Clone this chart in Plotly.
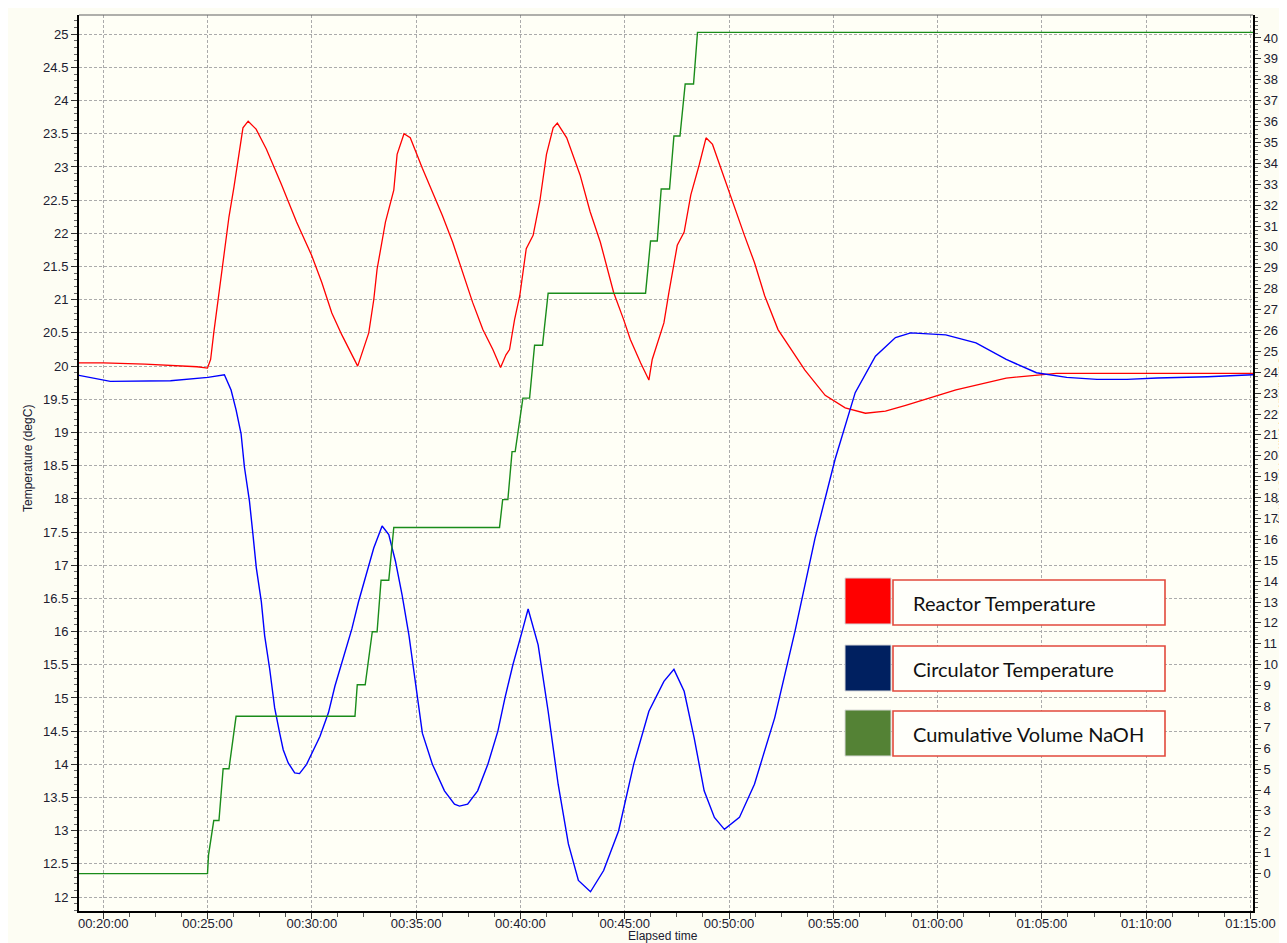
import plotly.graph_objects as go
import pandas as pd

# ---------------- data (time in minutes of elapsed time) ----------------
reactor_t = [18.84, 20.0, 22.0, 23.5, 24.5, 25.0, 25.15, 25.3, 25.55, 25.74, 26.03, 26.27, 26.51, 26.7,
             26.95, 27.33, 27.82, 28.54, 29.27, 29.99, 30.48, 30.96, 31.44, 31.93, 32.2, 32.73, 32.97,
             33.13, 33.53, 33.93, 34.09, 34.42, 34.72, 35.30, 35.78, 36.26, 36.75, 37.23, 37.71, 38.20,
             38.68, 39.05, 39.31, 39.48, 39.72, 39.97, 40.28, 40.61, 40.93, 41.25, 41.57, 41.77, 42.22,
             42.86, 43.34, 43.83, 44.47, 44.95, 45.27, 45.76, 46.16, 46.32, 46.56, 46.88, 47.12, 47.52,
             47.85, 48.17, 48.57, 48.90, 49.21, 49.78, 50.26, 50.74, 51.22, 51.71, 52.35, 53.0, 53.64,
             54.61, 55.57, 56.54, 57.5, 58.47, 60.88, 63.29, 65.70, 75.12]
reactor_temp = [20.05, 20.05, 20.03, 20.01, 19.99, 19.97, 20.1, 20.5, 21.1, 21.5, 22.25, 22.7, 23.24, 23.59,
                23.69, 23.57, 23.27, 22.74, 22.17, 21.67, 21.26, 20.8, 20.47, 20.17, 20.0, 20.5, 21.0,
                21.46, 22.17, 22.65, 23.19, 23.5, 23.44, 22.98, 22.63, 22.27, 21.87, 21.41, 20.96, 20.55,
                20.25, 19.98, 20.17, 20.25, 20.7, 21.06, 21.77, 21.97, 22.48, 23.19, 23.59, 23.66, 23.44,
                22.88, 22.33, 21.87, 21.11, 20.70, 20.40, 20.05, 19.79, 20.1, 20.35, 20.65, 21.11, 21.82,
                22.02, 22.58, 23.03, 23.44, 23.34, 22.83, 22.37, 21.97, 21.56, 21.06, 20.55, 20.25, 19.94,
                19.56, 19.37, 19.29, 19.32, 19.41, 19.64, 19.82, 19.89, 19.89]

circ_t = [18.84, 20.34, 23.23, 25.02, 25.81, 26.13, 26.37, 26.61, 26.77, 27.01, 27.18, 27.34, 27.58,
          27.74, 27.98, 28.22, 28.46, 28.63, 28.87, 29.18, 29.41, 29.75, 30.39, 30.80, 31.11, 31.60,
          31.92, 32.24, 32.56, 32.97, 33.37, 33.69, 34.01, 34.33, 34.66, 34.98, 35.30, 35.78, 36.36,
          36.84, 37.08, 37.47, 37.95, 38.44, 38.92, 39.26, 39.64, 40.08, 40.37, 40.85, 41.33, 41.81,
          42.30, 42.78, 43.36, 43.99, 44.71, 45.43, 46.16, 46.88, 47.36, 47.85, 48.33, 48.81, 49.30,
          49.78, 50.50, 51.22, 52.19, 53.16, 54.12, 55.09, 56.05, 57.02, 57.98, 58.71, 60.39, 61.84,
          63.29, 64.74, 66.19, 67.64, 69.08, 70.53, 72.94, 75.12]
circ_temp = [19.86, 19.77, 19.78, 19.83, 19.87, 19.64, 19.34, 18.98, 18.48, 17.97, 17.46, 16.96, 16.45,
             15.94, 15.44, 14.85, 14.47, 14.22, 14.02, 13.87, 13.86, 14.0, 14.42, 14.78, 15.18, 15.69,
             16.04, 16.45, 16.80, 17.26, 17.59, 17.46, 17.06, 16.55, 15.94, 15.23, 14.47, 14.0, 13.6,
             13.4, 13.37, 13.4, 13.6, 14.0, 14.5, 15.0, 15.5, 16.0, 16.34, 15.8, 14.8, 13.7,
             12.8, 12.25, 12.08, 12.4, 13.0, 14.0, 14.8, 15.25, 15.43, 15.1, 14.4, 13.6, 13.2,
             13.02, 13.2, 13.7, 14.7, 16.0, 17.4, 18.6, 19.6, 20.15, 20.43, 20.5, 20.47, 20.35,
             20.1, 19.9, 19.83, 19.8, 19.8, 19.82, 19.84, 19.87]

naoh_t = [18.84, 25.0, 25.05, 25.3, 25.55, 25.75, 26.03, 26.37, 32.07, 32.18, 32.56, 32.9, 33.13, 33.32,
          33.69, 33.93, 39.0, 39.15, 39.4, 39.6, 39.75, 40.12, 40.44, 40.68, 41.06, 41.33, 46.0, 46.24,
          46.56, 46.75, 47.15, 47.36, 47.65, 47.9, 48.3, 48.49, 75.12]
naoh_ml = [0, 0, 0.9, 2.54, 2.54, 5.02, 5.02, 7.53, 7.53, 9.04, 9.04, 11.58, 11.58, 14.04,
           14.04, 16.57, 16.57, 17.9, 17.9, 20.2, 20.2, 22.76, 22.76, 25.29, 25.29, 27.78, 27.78, 30.28,
           30.28, 32.77, 32.77, 35.31, 35.31, 37.8, 37.8, 40.27, 40.27]

series_names = ["Reactor Temperature", "Circulator Temperature", "Cumulative Volume NaOH"]
x_range_min = [18.84, 75.12]
y_left_range = [11.79, 25.29]
y_right_range = [-1.79, 41.1]


def to_time(mins):
    return pd.to_datetime(pd.Series(mins, dtype=float), unit="m")


fig = go.Figure()
fig.add_trace(go.Scatter(x=to_time(reactor_t), y=reactor_temp, mode="lines", name=series_names[0],
                         line=dict(color="#FF0000", width=1.3), yaxis="y"))
fig.add_trace(go.Scatter(x=to_time(circ_t), y=circ_temp, mode="lines", name=series_names[1],
                         line=dict(color="#0000FF", width=1.4), yaxis="y"))
fig.add_trace(go.Scatter(x=to_time(naoh_t), y=naoh_ml, mode="lines", name=series_names[2],
                         line=dict(color="#1A8C1A", width=1.4), yaxis="y2"))

OFF = 8  # page body margin
W, H = 1279, 935
L, R, T, B = 71, 34, 7, 32
PW, PH = W - L - R, H - T - B


def px(x):
    return (x - OFF - L) / PW


def py(y):
    return (OFF + H - B - y) / PH


tickfont = dict(family="Liberation Sans, Arial, sans-serif", size=13, color="#202030")
gridc = "#ABABAB"

fig.update_layout(
    width=W, height=H, margin=dict(l=L, r=R, t=T, b=B),
    paper_bgcolor="#FDFDF3", plot_bgcolor="#FFFFF6",
    showlegend=False,
    xaxis=dict(
        type="date", range=list(to_time(x_range_min)),
        tick0=to_time([20])[0], dtick=300000, tickformat="%H:%M:%S",
        ticks="outside", ticklen=6, tickcolor="#333333", tickfont=tickfont,
        ticklabelstandoff=-7,
        showline=True, linewidth=2, linecolor="black",
        showgrid=True, gridcolor=gridc, griddash="3px,2px", gridwidth=1,
        zeroline=False,
        minor=dict(ticks="outside", ticklen=4, dtick=75000, tick0=to_time([20])[0],
                   tickcolor="#555555", showgrid=False),
    ),
    yaxis=dict(
        range=y_left_range, tick0=0, dtick=0.5,
        ticks="outside", ticklen=6, tickcolor="#333333", tickfont=tickfont,
        showline=True, linewidth=2, linecolor="black",
        showgrid=True, gridcolor=gridc, griddash="3px,2px", gridwidth=1,
        zeroline=False,
        minor=dict(ticks="outside", ticklen=3, dtick=0.1, tick0=0, tickcolor="#666666", showgrid=False),
    ),
    yaxis2=dict(
        overlaying="y", side="right", range=y_right_range,
        tickmode="array", tickvals=list(range(0, 41)),
        ticks="outside", ticklen=6, tickcolor="#333333", tickfont=tickfont,
        showline=True, linewidth=2, linecolor="black",
        showgrid=False, zeroline=False,
        minor=dict(tickmode="linear", ticks="outside", ticklen=3, dtick=0.2, tick0=0,
                   tickcolor="#666666", showgrid=False),
    ),
)

# top border of the plot frame
fig.add_shape(type="line", xref="paper", yref="paper", x0=0, x1=1, y0=1, y1=1,
              line=dict(color="#606060", width=1))

# axis titles
title_font = dict(family="Liberation Sans, Arial, sans-serif", size=12, color="#202030")
fig.add_annotation(text="Temperature (degC)", xref="paper", yref="paper", x=px(28), y=py(459),
                   textangle=-90, showarrow=False, font=title_font, xanchor="center", yanchor="middle")
fig.add_annotation(text="Elapsed time", xref="paper", yref="paper", x=px(663), y=py(936),
                   showarrow=False, font=title_font, xanchor="center", yanchor="middle")
fig.add_annotation(text="Cumulative Volume NaOH (mL)", xref="paper", yref="paper", x=px(1283), y=py(440),
                   textangle=90, showarrow=False, font=title_font, xanchor="center", yanchor="middle")

# custom legend
legend_colors = ["#FF0000", "#002060", "#548235"]
sw_tops = [578, 645, 710]
box_tops = [580, 646, 711]
for name, col, st, bt in zip(series_names, legend_colors, sw_tops, box_tops):
    fig.add_shape(type="rect", xref="paper", yref="paper",
                  x0=px(845), x1=px(891), y0=py(st + 46), y1=py(st),
                  fillcolor=col, line=dict(color="#D8D8D8", width=1))
    fig.add_shape(type="rect", xref="paper", yref="paper",
                  x0=px(893), x1=px(1165), y0=py(bt + 45), y1=py(bt),
                  fillcolor="rgba(255,255,250,1)", line=dict(color="#E24A3C", width=1.6))
    fig.add_annotation(text=name, xref="paper", yref="paper", x=px(911), y=py(bt + 23),
                       xanchor="left", yanchor="middle", showarrow=False,
                       font=dict(family="Lato, Carlito, Calibri, sans-serif", size=20, color="#111111"))

fig.write_html("out.html")
